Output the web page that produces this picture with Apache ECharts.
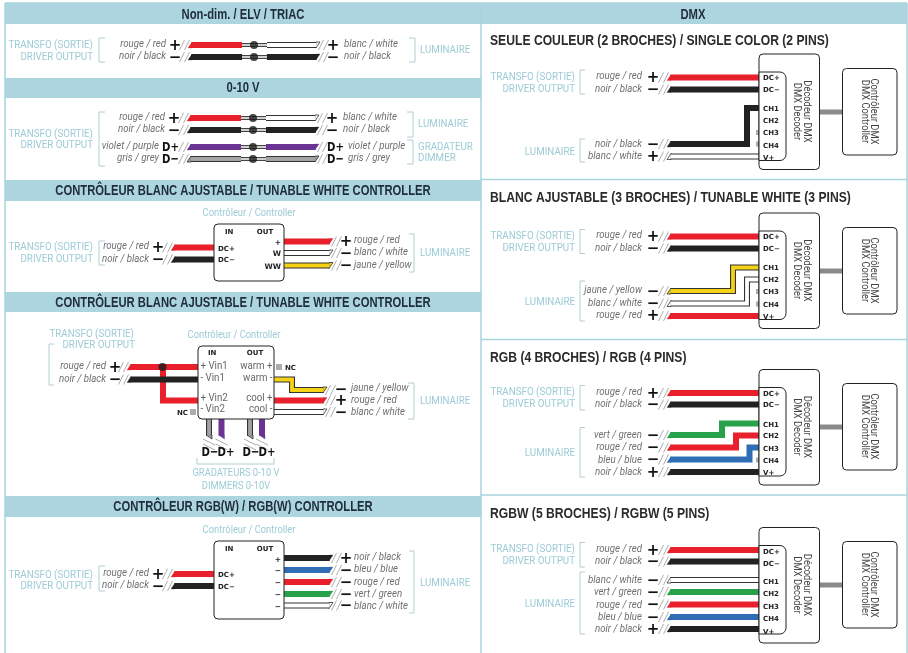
<!DOCTYPE html>
<html><head><meta charset="utf-8">
<style>html,body{margin:0;padding:0;background:#fff}#c{width:908px;height:653px}</style>
<script src="https://cdn.jsdelivr.net/npm/echarts@6/dist/echarts.min.js"></script></head>
<body><div id="c"></div>
<script>
// ---------- diagram content (values are in the hidden axes' units) ----------
const bands = [[5,3,476,21],[5,78,476,20],[5,180,476,21],[5,292,476,20],[5,496,476,21],[481,3,426,21]];
const rules = [[[5,3],[5,653]],[[481,3],[481,653]],[[907,3],[907,653]],[[5,3],[907,3]],[[481,179.5],[907,179.5]],[[481,339.5],[907,339.5]],[[481,495],[907,495]]];
const headerTexts = [["Non-dim. / ELV / TRIAC",243,14],["0-10 V",243,87.5],["CONTRÔLEUR BLANC AJUSTABLE / TUNABLE WHITE CONTROLLER",243,190],["CONTRÔLEUR BLANC AJUSTABLE / TUNABLE WHITE CONTROLLER",243,302],["CONTRÔLEUR RGB(W) / RGB(W) CONTROLLER",243,506],["DMX",693,14]];
const subTitles = [["SEULE COULEUR (2 BROCHES) / SINGLE COLOR (2 PINS)",490,40],["BLANC AJUSTABLE (3 BROCHES) / TUNABLE WHITE (3 PINS)",490,197],["RGB (4 BROCHES) / RGB (4 PINS)",490,357],["RGBW (5 BROCHES) / RGBW (5 PINS)",490,513]];
const blueRight = [["TRANSFO (SORTIE)",93,44],["DRIVER OUTPUT",93,56],["TRANSFO (SORTIE)",93,133],["DRIVER OUTPUT",93,144],["TRANSFO (SORTIE)",93,246],["DRIVER OUTPUT",93,258],["TRANSFO (SORTIE)",134,333],["DRIVER OUTPUT",135,344.5],["TRANSFO (SORTIE)",93,574],["DRIVER OUTPUT",93,585.5],
 ["TRANSFO (SORTIE)",575,76.5],["DRIVER OUTPUT",575,88.5],["LUMINAIRE",575,151.5],["TRANSFO (SORTIE)",575,235.5],["DRIVER OUTPUT",575,247.5],["LUMINAIRE",575,301.5],["TRANSFO (SORTIE)",575,391.5],["DRIVER OUTPUT",575,403.5],["LUMINAIRE",575,452.5],["TRANSFO (SORTIE)",575,548.5],["DRIVER OUTPUT",575,560.5],["LUMINAIRE",575,603.5]];
const blueLeft = [["LUMINAIRE",420,49],["LUMINAIRE",418,123],["GRADATEUR",418,146],["DIMMER",418,157],["LUMINAIRE",420,252],["LUMINAIRE",420,400],["LUMINAIRE",420,582]];
const blueCenter = [["Contrôleur / Controller",249,213],["Contrôleur / Controller",234,334.5],["Contrôleur / Controller",249,530],["GRADATEURS 0-10 V",236,473],["DIMMERS 0-10V",236,485.5]];
const itemRight = [["rouge / red",166,44],["noir / black",166,56],["rouge / red",165,117],["noir / black",165,129],["violet / purple",159,146],["gris / grey",159,158],["rouge / red",149,246],["noir / black",149,259],["rouge / red",106,366],["noir / black",106,379],["rouge / red",149,573],["noir / black",149,585],
 ["rouge / red",642,76],["noir / black",642,88.5],["noir / black",642,143.5],["blanc / white",642,156],["rouge / red",642,235],["noir / black",642,247.5],["jaune / yellow",642,290],["blanc / white",642,303],["rouge / red",642,315],["rouge / red",642,392],["noir / black",642,403.5],["vert / green",642,435],["rouge / red",642,447],["bleu / blue",642,459.5],["noir / black",642,471.5],["rouge / red",642,549],["noir / black",642,561],["blanc / white",642,580],["vert / green",642,592],["rouge / red",642,604.5],["bleu / blue",642,616.5],["noir / black",642,629]];
const itemLeft = [["blanc / white",344,44],["noir / black",344,56],["blanc / white",343,117],["noir / black",343,129],["violet / purple",348,146],["gris / grey",348,158],["rouge / red",354,240],["blanc / white",354,252],["jaune / yellow",354,265],["jaune / yellow",351,388],["rouge / red",351,400],["blanc / white",351,412],["noir / black",354,557],["bleu / blue",354,569],["rouge / red",354,582],["vert / green",354,594],["blanc / white",354,605.5]];
const signs = [["+",175,45],["−",175,57],["+",333,45],["−",333,57],["+",174,118],["−",174,130],["+",332,118],["−",332,130],["+",158,247],["−",158,259],["+",346,241],["−",346,253],["−",346,265],["+",115,367],["−",115,379],["−",341,389],["+",341,400],["−",341,412],["+",158,574],["−",158,586],["+",346,558],["−",346,570],["−",346,582],["−",346,594],["−",346,605.5],
 ["+",653,77.5],["−",653,89],["−",653,144],["+",653,156],["+",653,236.5],["−",653,248],["−",653,291],["−",653,303],["+",653,315.5],["+",653,393],["−",653,404],["−",653,435],["−",653,447],["−",653,459.5],["+",653,472],["+",653,550],["−",653,561.5],["−",653,580],["−",653,592],["−",653,604.5],["−",653,617],["+",653,629]];
const dimSigns = [["D+",170.5,147],["D−",170.5,159],["D+",335.5,147],["D−",335.5,159],["D−",210,452],["D+",226,452],["D−",251,452],["D+",267,452]];
const pinNames = ["DC+","DC−","CH1","CH2","CH3","CH4","V+"];
const pinRows = [[77.5,89.5,108.5,120.5,132.5,145,157],[236.5,248.5,267.5,279.5,291.5,304,316],[393,404.5,424,435.5,448,460,472],[551,563,581.5,593.5,606,618,631]];
const tinyLeft = [["IN",225,231.5],["IN",208,352],["IN",225,548.5],["DC+",218,248],["DC−",218,259.5],["DC+",218,574],["DC−",218,586],["NC",285,367],["NC",177,412]];
const tinyCenter = [["OUT",265,231.5],["OUT",255,352],["OUT",265,548.5]];
const tinyRight = [["+",281,242],["W",281,253.5],["WW",281,266],["+",281,559],["−",281,570],["−",281,582],["−",281,594],["−",281,606]];
const vinLeft = [["+ Vin1",200.5,366],["- Vin1",200.5,377.5],["+ Vin2",200.5,398],["- Vin2",200.5,409]];
const vinRight = [["warm +",272.5,366],["warm -",272.5,378],["cool +",272.5,398],["cool -",272.5,409]];
const decoderTops = [54,213,369.5,527.5];
const controllerTops = [68.5,227.5,383.5,541.5];
const linkRows = [112,271,427,585];
const decoderNames = ["Décodeur DMX","DMX Decoder"];
const controllerNames = ["Contrôleur DMX","DMX Controller"];
const modules = [[214,224,70,57],[198,346,76,73],[214,541,70,78]];
const brackets = [
 [[105,38],[99,38],[99,62],[105,62]],[[409,38],[415,38],[415,62],[409,62]],
 [[105,112],[99,112],[99,166],[105,166]],[[407,112],[413,112],[413,137],[407,137]],[[407,140],[413,140],[413,164],[407,164]],
 [[105,241],[99,241],[99,265],[105,265]],[[409,234],[414,234],[414,272],[409,272]],
 [[54,344],[49,344],[49,385],[54,385]],[[408,383],[414,383],[414,419],[408,419]],[[197,458],[197,464],[274,464],[274,458]],
 [[105,566],[99,566],[99,591],[105,591]],[[409,551],[414,551],[414,613],[409,613]],
 [[585,70],[580,70],[580,94],[585,94]],[[585,139],[580,139],[580,162],[585,162]],
 [[585,229.5],[580,229.5],[580,253.5],[585,253.5]],[[585,281],[580,281],[580,321],[585,321]],
 [[585,385.5],[580,385.5],[580,410],[585,410]],[[585,427.5],[580,427.5],[580,477],[585,477]],
 [[585,542.5],[580,542.5],[580,567],[585,567]],[[585,572],[580,572],[580,634],[585,634]]];
// colour key, route, cut at start, cut at end
const wires = [
 ["red",[[188,45],[242,45]],1,0],["thin",[[242,45],[267,45]],0,0],["white",[[267,45],[320,45]],0,1],
 ["black",[[188,57],[242,57]],1,0],["thin",[[242,57],[267,57]],0,0],["black",[[267,57],[320,57]],0,1],
 ["red",[[187,118],[241,118]],1,0],["thin",[[241,118],[266,118]],0,0],["white",[[266,118],[319,118]],0,1],
 ["black",[[187,130],[241,130]],1,0],["thin",[[241,130],[266,130]],0,0],["black",[[266,130],[319,130]],0,1],
 ["purple",[[187,147],[241,147]],1,0],["thin",[[241,147],[266,147]],0,0],["purple",[[266,147],[319,147]],0,1],
 ["grey",[[187,159],[241,159]],1,0],["thin",[[241,159],[266,159]],0,0],["grey",[[266,159],[319,159]],0,1],
 ["red",[[171,247.5],[214,247.5]],1,0],["black",[[171,259.5],[214,259.5]],1,0],
 ["red",[[284,241.5],[333,241.5]],0,1],["white",[[284,253],[333,253]],0,1],["yellow",[[284,265.5],[333,265.5]],0,1],
 ["red",[[163,367],[163,400.5],[198,400.5]],0,0],["red",[[127,367],[198,367]],1,0],["black",[[127,379.5],[198,379.5]],1,0],
 ["yellow",[[274,379.5],[292,379.5],[292,390],[327,390]],0,1],["red",[[274,400.5],[327,400.5]],0,1],["white",[[274,412],[327,412]],0,1],
 ["grey",[[209,419],[209,439]],0,2],["purple",[[221.5,419],[221.5,439]],0,2],["grey",[[250,419],[250,439]],0,2],["purple",[[262,419],[262,439]],0,2],
 ["red",[[171,574],[214,574]],1,0],["black",[[171,586],[214,586]],1,0],
 ["black",[[284,558],[333,558]],0,1],["blue",[[284,570],[333,570]],0,1],["red",[[284,582],[333,582]],0,1],["green",[[284,594],[333,594]],0,1],["white",[[284,605.5],[333,605.5]],0,1],
 ["red",[[667,77.5],[759,77.5]],1,0],["black",[[667,89.5],[759,89.5]],1,0],["black",[[667,144],[747,144],[747,108],[759,108]],1,0],["white",[[667,156.5],[759,156.5]],1,0],
 ["red",[[667,236.5],[759,236.5]],1,0],["black",[[667,248.5],[759,248.5]],1,0],["yellow",[[667,291],[733,291],[733,267.5],[759,267.5]],1,0],["white",[[667,303.5],[747,303.5],[747,279.5],[759,279.5]],1,0],["red",[[667,316],[759,316]],1,0],
 ["red",[[667,393],[759,393]],1,0],["black",[[667,404.5],[759,404.5]],1,0],["green",[[667,435],[722,435],[722,423.5],[759,423.5]],1,0],["red",[[667,447.5],[736,447.5],[736,435.5],[759,435.5]],1,0],["blue",[[667,459.5],[749.5,459.5],[749.5,447.5],[759,447.5]],1,0],["black",[[667,472],[759,472]],1,0],
 ["red",[[667,550],[759,550]],1,0],["black",[[667,561.5],[759,561.5]],1,0],["white",[[667,580],[759,580]],1,0],["green",[[667,592],[759,592]],1,0],["red",[[667,604.5],[759,604.5]],1,0],["blue",[[667,617],[759,617]],1,0],["black",[[667,629],[759,629]],1,0]];
const junctionDots = [[254,45],[254,57],[253,118],[253,130],[253,147],[253,159],[162.5,367]];
const ncSquares = [[279,367],[193,412],[757.5,132.5],[757.5,144],[757.5,291.5],[757.5,304],[757.5,460]];

// ---------- styles ----------
const C = {red:["#e8202b"],black:["#222222"],purple:["#6b3494"],blue:["#2f6db5"],green:["#27a24a"],
 white:["#ffffff","#333333"],yellow:["#f5d215","#333333"],grey:["#a3a3a3","#333333"],thin:["#ffffff","#444444"]};
const SANS='"Liberation Sans",sans-serif', ROB='Roboto,sans-serif';
const T = {
 header:{f:SANS,s:15,w:'bold',c:'#1f2d3a',a:'center',k:.75},
 sub:{f:SANS,s:15,w:'bold',c:'#2b2b2b',a:'left',k:.81},
 blueR:{f:ROB,s:11.5,c:'#9ccbd6',a:'right',k:.85},
 blueL:{f:ROB,s:11.5,c:'#9ccbd6',a:'left',k:.85},
 blueC:{f:ROB,s:11,c:'#9ccbd6',a:'center',k:.85},
 itemR:{f:ROB,s:11,st:'italic',c:'#6f6f6f',a:'right',k:.88},
 itemL:{f:ROB,s:11,st:'italic',c:'#6f6f6f',a:'left',k:.88},
 sign:{f:'"DejaVu Sans"',s:15,w:'bold',c:'#111',a:'center',k:1},
 dim:{f:'"DejaVu Sans"',s:13,w:'bold',c:'#111',a:'center',k:.78},
 tinyL:{f:'"DejaVu Sans"',s:7,w:'bold',c:'#222',a:'left',k:1},
 tinyC:{f:'"DejaVu Sans"',s:7,w:'bold',c:'#222',a:'center',k:1},
 tinyR:{f:'"DejaVu Sans"',s:7.5,w:'bold',c:'#222',a:'right',k:1},
 vinL:{f:ROB,s:11,c:'#666',a:'left',k:.88},
 vinR:{f:ROB,s:11,c:'#666',a:'right',k:.88},
 rot:{f:ROB,s:11,c:'#444',a:'center',k:.85,r:-Math.PI/2}
};
const CUT=3.5;

// ---------- series builders ----------
function textSeries(list,style){
 return {type:'custom',coordinateSystem:'cartesian2d',silent:true,z:8,clip:false,encode:{x:0,y:1},
  data:list.map(t=>[t[1],t[2]]),
  renderItem(p,api){const pt=api.coord([api.value(0),api.value(1)]);
   return {type:'text',x:pt[0],y:pt[1]+(style.r?0:.7),rotation:style.r||0,scaleX:style.k,
    style:{text:list[p.dataIndex][0],fontFamily:style.f,fontSize:style.s,fontWeight:style.w||'normal',fontStyle:style.st||'normal',fill:style.c,align:style.a,verticalAlign:'middle'}};}};
}
function shapeSeries(list,z,draw){
 return {type:'custom',coordinateSystem:'cartesian2d',silent:true,z,clip:false,encode:{x:0,y:1},
  data:list.map((_,i)=>[i,i]),
  renderItem(p,api){return draw(list[p.dataIndex],a=>api.coord(a));}};
}
function rectEl(b,to,st,r){const a=to([b[0],b[1]]),c=to([b[0]+b[2],b[1]+b[3]]);
 return {type:'rect',shape:{x:a[0],y:a[1],width:c[0]-a[0],height:c[1]-a[1],r:r||0},style:st};}
const lineSeries=(pts,color,width,z)=>({type:'line',data:pts,symbol:'none',silent:true,z,animation:false,clip:false,
  lineStyle:{color,width,cap:'butt',join:'miter'}});

// ---------- assemble ----------
const series=[];
series.push(shapeSeries(bands,1,(b,to)=>rectEl(b,to,{fill:'#add5e0'})));
rules.forEach(r=>series.push(lineSeries(r,'#a9d3de',1.5,2)));
const dmxOuter=decoderTops.map(t=>[759,t,60.5,115.5]), dmxInner=decoderTops.map(t=>[759,t+18,27,88.5]), ctrl=controllerTops.map(t=>[842.5,t,54.5,86.5]);
series.push(shapeSeries(dmxOuter.concat(modules,ctrl),6,(b,to)=>rectEl(b,to,{fill:'#fff',stroke:'#222',lineWidth:1},4)));
series.push(shapeSeries(dmxInner,6.5,(b,to)=>rectEl(b,to,{fill:'#fff',stroke:'#222',lineWidth:1},[0,6,6,0])));
linkRows.forEach(y=>series.push(lineSeries([[820,y],[842,y]],'#8a8a8a',5,5)));
brackets.forEach(b=>series.push(lineSeries(b,'#b4cdd4',1,3)));
const caps=[], slashes=[];
wires.forEach(w=>{
 const st=C[w[0]], pts=w[1].map(p=>p.slice()), thin=w[0]==='thin';
 const full=thin?4:6, inner=thin?1.5:(st[1]?3.8:6);
 if(w[2]===1){const [x,y]=pts[0];pts[0]=[x+CUT,y];caps.push({k:'L',x,y,st});
   slashes.push([[x-8.5,y+5],[x-3.5,y-5]],[[x-3.5,y+5],[x+1.5,y-5]]);}
 const n=pts.length-1;
 if(w[3]===1){const [x,y]=pts[n];pts[n]=[x-CUT,y];caps.push({k:'R',x,y,st});
   slashes.push([[x-1.5,y+5],[x+3.5,y-5]],[[x+3.5,y+5],[x+8.5,y-5]]);}
 if(w[3]===2){const [x,y]=pts[n];pts[n]=[x,y-CUT];caps.push({k:'B',x,y,st});
   slashes.push([[x-6,y],[x+6,y+6]],[[x-6,y+5],[x+6,y+11]]);}
 if(st[1]) series.push(lineSeries(pts,st[1],full,4));
 series.push(lineSeries(pts,st[0],inner,4.5));
});
series.push(shapeSeries(caps,4.2,(c,to)=>{
 const h=3,x=c.x,y=c.y; let P;
 if(c.k==='L')P=[[x,y+h],[x+CUT+.5,y-h],[x+CUT+.5,y+h]];
 else if(c.k==='R')P=[[x,y-h],[x-CUT-.5,y-h],[x-CUT-.5,y+h]];
 else P=[[x+h,y],[x-h,y-CUT-.5],[x+h,y-CUT-.5]];
 return {type:'polygon',shape:{points:P.map(to)},style:{fill:c.st[0],stroke:c.st[1]||c.st[0],lineWidth:c.st[1]?.8:.3}};
}));
series.push(shapeSeries(slashes,3.5,(s,to)=>({type:'line',shape:{x1:to(s[0])[0],y1:to(s[0])[1],x2:to(s[1])[0],y2:to(s[1])[1]},style:{stroke:'#8a8a8a',lineWidth:.7}})));
series.push({type:'scatter',data:junctionDots,symbol:'circle',symbolSize:8,itemStyle:{color:'#1c1c1c'},z:5,silent:true,animation:false,clip:false});
series.push({type:'scatter',data:ncSquares.slice(0,2),symbol:'rect',symbolSize:[6,6],itemStyle:{color:'#999'},z:5,silent:true,animation:false,clip:false});
series.push({type:'scatter',data:ncSquares.slice(2),symbol:'rect',symbolSize:[3,5],itemStyle:{color:'#999'},z:3,silent:true,animation:false,clip:false});
const pinTexts=[];pinRows.forEach(r=>r.forEach((y,i)=>pinTexts.push([pinNames[i],763,y])));
const rotTexts=[];decoderTops.forEach(t=>{rotTexts.push([decoderNames[0],807,t+57.5],[decoderNames[1],797,t+57.5]);});
controllerTops.forEach(t=>{rotTexts.push([controllerNames[0],874,t+43],[controllerNames[1],865,t+43]);});
[[headerTexts,T.header],[subTitles,T.sub],[blueRight,T.blueR],[blueLeft,T.blueL],[blueCenter,T.blueC],[itemRight,T.itemR],[itemLeft,T.itemL],[signs,T.sign],[dimSigns,T.dim],[tinyLeft,T.tinyL],[tinyCenter,T.tinyC],[tinyRight,T.tinyR],[pinTexts,T.tinyL],[vinLeft,T.vinL],[vinRight,T.vinR],[rotTexts,T.rot]].forEach(a=>series.push(textSeries(a[0],a[1])));

const chart=echarts.init(document.getElementById('c'),null,{renderer:'canvas'});
chart.setOption({animation:false,backgroundColor:'#fff',tooltip:{show:false},legend:{show:false},
 grid:{left:0,right:0,top:0,bottom:0},
 xAxis:{type:'value',min:0,max:908,show:false},
 yAxis:{type:'value',min:0,max:653,inverse:true,show:false},
 series});
</script></body></html>
